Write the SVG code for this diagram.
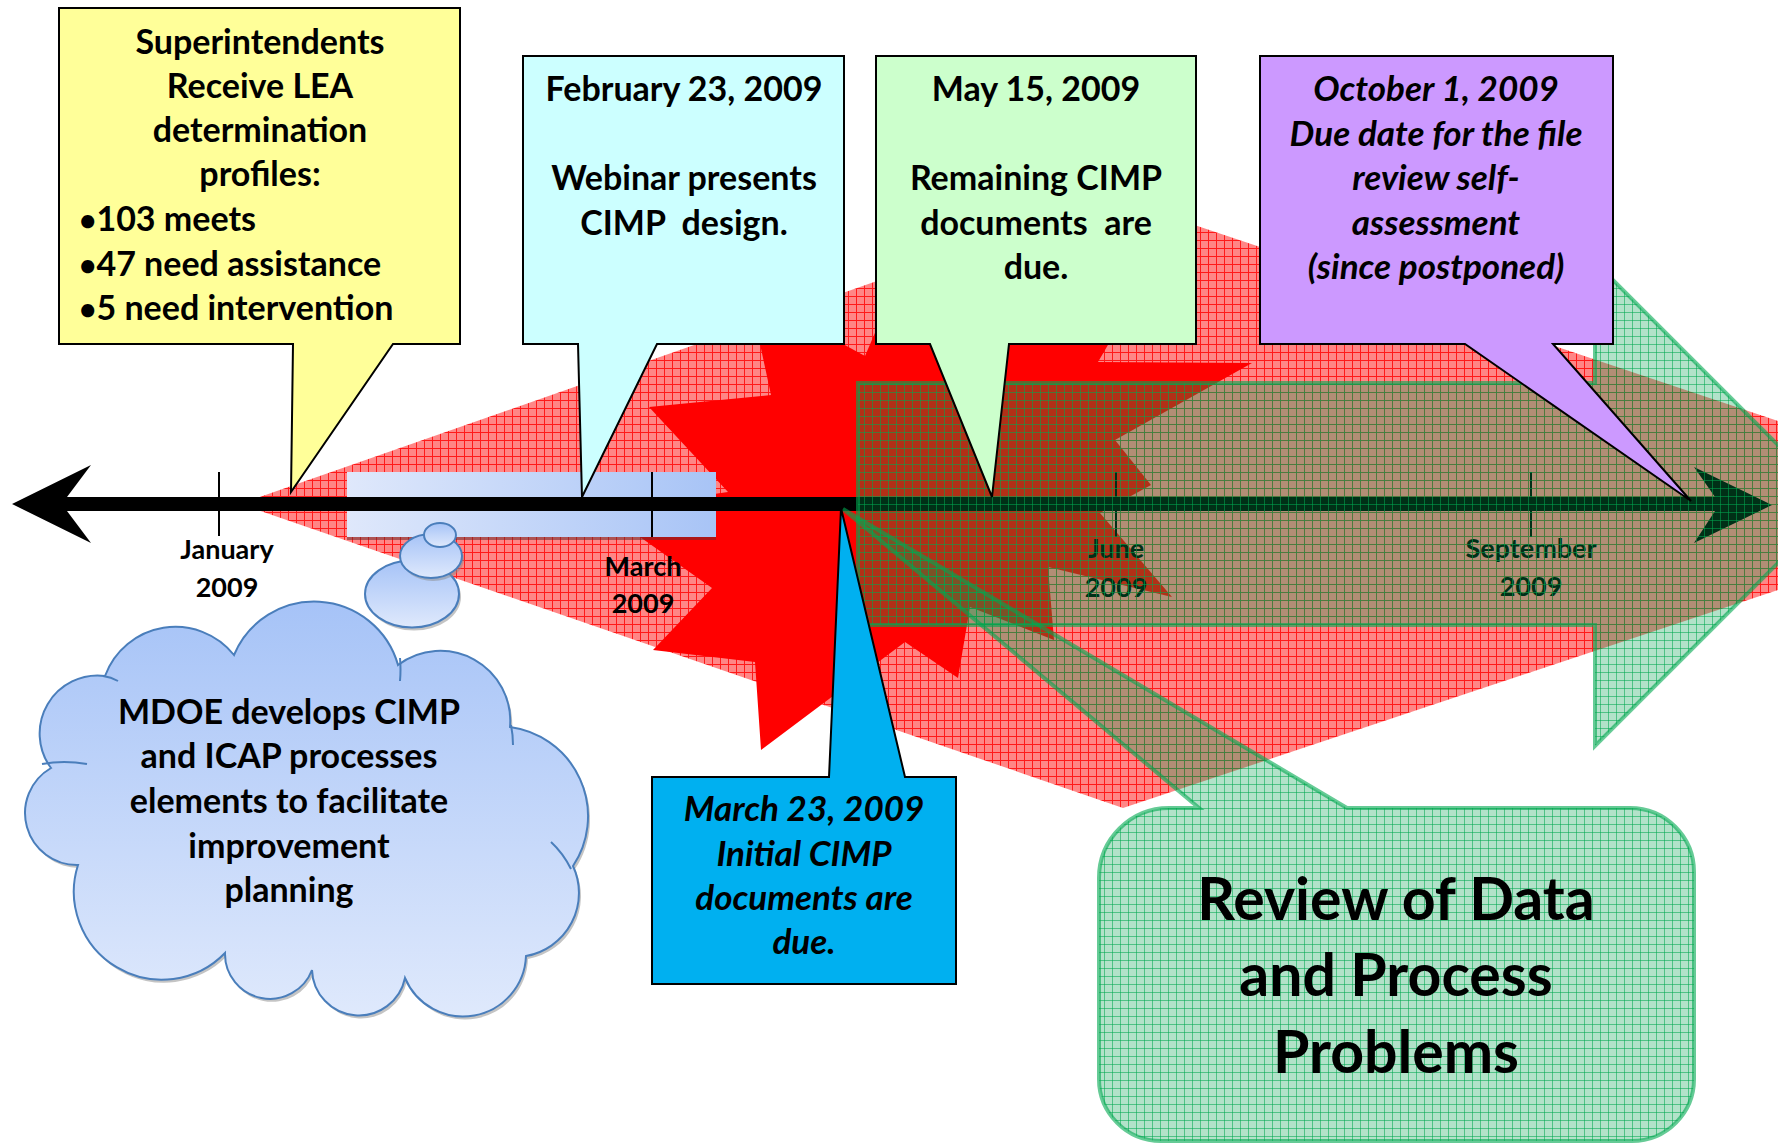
<svg xmlns="http://www.w3.org/2000/svg" width="1778" height="1144" viewBox="0 0 1778 1144">
<style>
.t{font-family:Lato,'Liberation Sans',sans-serif;font-weight:700;font-size:34px;text-anchor:middle;fill:#000}
.i{font-style:italic;font-size:35px}
.l{text-anchor:start}
.lab{font-size:27px}
.big{font-size:59px}
.bu{font-size:30px}
.box{stroke:#000;stroke-width:2;stroke-linejoin:miter}
.cl{stroke:#4a7ebb;stroke-width:2;fill:url(#cg)}
.sh{fill:#8a8a8a;opacity:.5}
.tick{stroke:#000;stroke-width:2}
</style>
<defs>
<pattern id="rp" width="8" height="8" patternUnits="userSpaceOnUse"><rect width="8" height="8" fill="#ff8686"/><path d="M0 0.5H8M0.5 0V8" stroke="#ff1a1a" stroke-width="1"/></pattern>
<pattern id="gp" width="8" height="8" patternUnits="userSpaceOnUse"><rect width="8" height="8" fill="#00a04c" fill-opacity="0.3"/><path d="M0 0.5H8M0.5 0V8" stroke="#00a850" stroke-opacity="0.55" stroke-width="1"/></pattern>
<linearGradient id="rg" x1="0" y1="0" x2="1" y2="0"><stop offset="0" stop-color="#dfe8fb"/><stop offset="1" stop-color="#a8c4f6"/></linearGradient>
<linearGradient id="cg" x1="0" y1="0" x2="0" y2="1"><stop offset="0" stop-color="#a6c3f7"/><stop offset="1" stop-color="#dfe9fc"/></linearGradient>
</defs>

<g id="background-shapes">
<polygon id="red-hatch" points="240,504 1114,198 1778,421 1778,590 1123,808" fill="url(#rp)"/>
<polygon id="red-burst" points="649,407 771,395 749,293 865,356 900,275 1010,330 1140,290 1098,362 1252,363 1115,440 1151,485 1100,513 1172,597 1048,567 1054,640 970,607 958,678 905,642 761,750 755,662 653,650 712,588 602,510 728,492" fill="#ff0000"/>
<rect id="period-bar" x="347" y="472" width="369" height="65" fill="url(#rg)"/>
<rect x="347" y="537" width="369" height="3" fill="#6a2a2a" opacity=".55"/>
</g>

<g id="timeline">
<path d="M12,504 L91,465 L67,497 H1715 L1694,467 L1772,505 L1694,543 L1715,511 H67 L91,543 Z" fill="#000"/>
<line class="tick" x1="219" y1="472" x2="219" y2="536"/>
<line class="tick" x1="652" y1="472" x2="652" y2="537"/>
<line class="tick" x1="1116" y1="472" x2="1116" y2="537"/>
<line class="tick" x1="1531" y1="472" x2="1531" y2="537"/>
<text class="t lab" x="227" y="559">January</text>
<text class="t lab" x="227" y="597">2009</text>
<text class="t lab" x="643" y="576">March</text>
<text class="t lab" x="643" y="613">2009</text>
<text class="t lab" x="1116" y="558">June</text>
<text class="t lab" x="1116" y="597">2009</text>
<text class="t lab" x="1531" y="558">September</text>
<text class="t lab" x="1531" y="596">2009</text>
</g>

<g id="cloud">
<ellipse class="sh" cx="414" cy="597" rx="47" ry="33.5"/>
<ellipse class="cl" cx="412" cy="594" rx="47" ry="33.5"/>
<ellipse class="sh" cx="433" cy="559" rx="31" ry="22"/>
<ellipse class="cl" cx="431" cy="556" rx="31" ry="22"/>
<ellipse class="cl" cx="440" cy="535" rx="16" ry="12"/>
<path class="sh" transform="translate(2,3)" d="M78,865 A52,52 0 0 1 51,768 A58,58 0 0 1 105,676 A75,75 0 0 1 234,655 A87,87 0 0 1 398,665 A70,70 0 0 1 510,727 A90,90 0 0 1 573,866 A64,64 0 0 1 526,956 A63,63 0 0 1 405,978 A47,47 0 0 1 312,970 A45,45 0 0 1 225,953 A88,88 0 0 1 78,865 Z"/>
<path class="cl" d="M78,865 A52,52 0 0 1 51,768 A58,58 0 0 1 105,676 A75,75 0 0 1 234,655 A87,87 0 0 1 398,665 A70,70 0 0 1 510,727 A90,90 0 0 1 573,866 A64,64 0 0 1 526,956 A63,63 0 0 1 405,978 A47,47 0 0 1 312,970 A45,45 0 0 1 225,953 A88,88 0 0 1 78,865 Z"/>
<path d="M42,764 Q64,760 87,764 M103,676 Q111,677 118,681 M400,658 Q401,670 400,681 M511,725 Q513,735 513,745 M551,842 Q563,853 571,869" fill="none" stroke="#4a7ebb" stroke-width="2"/>
<text class="t" x="289" y="724">MDOE develops CIMP</text>
<text class="t" x="289" y="768">and ICAP processes</text>
<text class="t" x="289" y="813">elements to facilitate</text>
<text class="t" x="289" y="858">improvement</text>
<text class="t" x="289" y="902">planning</text>
</g>

<g id="review-arrow">
<path d="M858,383 H1595 V262 L1837,504 L1595,746 V625 H858 Z" fill="url(#gp)" stroke="#00a850" stroke-opacity=".6" stroke-width="4"/>
</g>

<g id="review-callout">
<path d="M1169,808 H1199 L843,509 L1347,808 H1630 A64,64 0 0 1 1694,872 V1079 A62,62 0 0 1 1632,1141 H1161 A62,62 0 0 1 1099,1079 V878 A70,70 0 0 1 1169,808 Z" fill="url(#gp)" stroke="#00a850" stroke-opacity=".6" stroke-width="4"/>
<text class="t big" x="1396" y="920">Review of Data</text>
<text class="t big" x="1396" y="996">and Process</text>
<text class="t big" x="1396" y="1073">Problems</text>
</g>

<g id="superintendents">
<path class="box" d="M59,8 H460 V344 H393 L291,492 L293,344 H59 Z" fill="#ffff99"/>
<text class="t" x="260" y="54">Superintendents</text>
<text class="t" x="260" y="98">Receive LEA</text>
<text class="t" x="260" y="142">determination</text>
<text class="t" x="260" y="186">profiles:</text>
<text class="t l" x="79" y="231"><tspan class="bu">•</tspan>103 meets</text>
<text class="t l" x="79" y="276"><tspan class="bu">•</tspan>47 need assistance</text>
<text class="t l" x="79" y="320"><tspan class="bu">•</tspan>5 need intervention</text>
</g>

<g id="feb23">
<path class="box" d="M523,56 H844 V344 H657 L582,497 L578,344 H523 Z" fill="#ccffff"/>
<text class="t" x="684" y="101">February 23, 2009</text>
<text class="t" x="684" y="190">Webinar presents</text>
<text class="t" x="684" y="235" style="white-space:pre">CIMP  design.</text>
</g>

<g id="may15">
<path class="box" d="M876,56 H1196 V344 H1009 L992,497 L930,344 H876 Z" fill="#ccffcc"/>
<text class="t" x="1036" y="101">May 15, 2009</text>
<text class="t" x="1036" y="190">Remaining CIMP</text>
<text class="t" x="1036" y="235" style="white-space:pre">documents  are</text>
<text class="t" x="1036" y="279">due.</text>
</g>

<g id="oct1">
<path class="box" d="M1260,56 H1613 V344 H1553 L1691,501 L1465,344 H1260 Z" fill="#cc99ff"/>
<text class="t i" x="1436" y="101">October 1, 2009</text>
<text class="t i" x="1436" y="146">Due date for the file</text>
<text class="t i" x="1436" y="190">review self-</text>
<text class="t i" x="1436" y="235">assessment</text>
<text class="t i" x="1436" y="279">(since postponed)</text>
</g>

<g id="mar23">
<path class="box" d="M652,777 H829 L841,508 L905,777 H956 V984 H652 Z" fill="#00b0f0"/>
<text class="t i" x="804" y="821">March 23, 2009</text>
<text class="t i" x="804" y="866">Initial CIMP</text>
<text class="t i" x="804" y="910">documents are</text>
<text class="t i" x="804" y="954">due.</text>
</g>
</svg>
